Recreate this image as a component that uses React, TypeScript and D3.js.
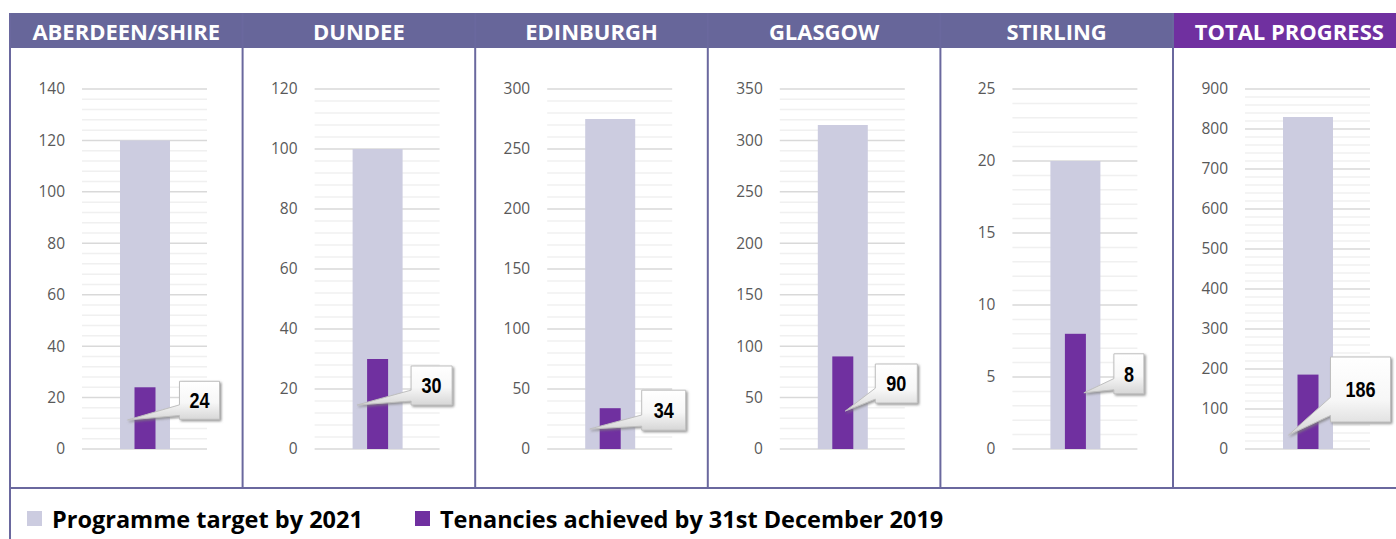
import React, { useEffect, useRef } from 'react';
import * as d3 from 'd3';

const regions = ['ABERDEEN/SHIRE', 'DUNDEE', 'EDINBURGH', 'GLASGOW', 'STIRLING', 'TOTAL PROGRESS'];
const targets = [120, 100, 275, 315, 20, 830];
const achieved = [24, 30, 34, 90, 8, 186];
const axisMax = [140, 120, 300, 350, 25, 900];
const majorStep = [20, 20, 50, 50, 5, 100];
const minorStep = [4, 4, 10, 10, 1, 20];
const legendLabels = ['Programme target by 2021', 'Tenancies achieved by 31st December 2019'];

// callout placement relative to the top centre of the purple bar (px)
const callouts = [
    { dx: 34.5, dy: -6, w: 40, h: 38, tipDx: -17.5, tipDy: 32.7 },
    { dx: 33.5, dy: 7, w: 41, h: 39, tipDx: -20.5, tipDy: 46 },
    { dx: 31.5, dy: -18, w: 44, h: 40, tipDx: -20.5, tipDy: 20.8 },
    { dx: 32.5, dy: 7.6, w: 42, h: 39, tipDx: 2.5, tipDy: 54.6 },
    { dx: 38.5, dy: 20, w: 30, h: 40, tipDx: 8.5, tipDy: 59 },
    { dx: 22.5, dy: -17.6, w: 60, h: 65, tipDx: -19.5, tipDy: 60.4 }
];

const FRAME = '#6A689E';
const HEADER = '#67669A';
const TOTAL_HEADER = '#7030A0';
const TARGET_COLOR = '#CCCCE0';
const ACHIEVED_COLOR = '#7030A0';

const ProgressPanels = () => {
    const svgRef = useRef<SVGSVGElement>(null);

    useEffect(() => {
        if (!svgRef.current) return;
        const width = 1396;
        const height = 539;
        const panelW = 232.6;
        const top = 89, bottom = 449;

        const svg = d3.select(svgRef.current)
            .attr('width', width)
            .attr('height', height);
        svg.selectAll('*').remove();

        const defs = svg.append('defs');
        const grad = defs.append('linearGradient')
            .attr('id', 'callout-fill')
            .attr('x1', 0).attr('y1', 0).attr('x2', 0).attr('y2', 1);
        grad.append('stop').attr('offset', '0%').attr('stop-color', '#ffffff');
        grad.append('stop').attr('offset', '55%').attr('stop-color', '#f7f7f7');
        grad.append('stop').attr('offset', '100%').attr('stop-color', '#d6d6d6');
        const shadow = defs.append('filter').attr('id', 'callout-shadow')
            .attr('x', '-30%').attr('y', '-30%').attr('width', '160%').attr('height', '160%');
        shadow.append('feDropShadow')
            .attr('dx', 1.5).attr('dy', 1.5).attr('stdDeviation', 0.8)
            .attr('flood-color', '#7f7f7f').attr('flood-opacity', 0.8);

        const panel = d3.scaleBand()
            .domain(regions)
            .range([10, 10 + panelW * regions.length])
            .padding(0);

        // header band
        svg.append('rect')
            .attr('x', 10).attr('y', 13)
            .attr('width', width - 10).attr('height', 35)
            .attr('fill', HEADER);
        svg.append('rect')
            .attr('x', (panel(regions[5]) as number) + 1).attr('y', 13)
            .attr('width', width - (panel(regions[5]) as number)).attr('height', 35)
            .attr('fill', TOTAL_HEADER);

        regions.forEach((name, i) => {
            const px = panel(name) as number;
            const y = d3.scaleLinear().domain([0, axisMax[i]]).range([bottom, top]);
            const g = svg.append('g');

            g.append('text')
                .attr('x', px + panelW / 2)
                .attr('y', 39.5)
                .attr('text-anchor', 'middle')
                .attr('fill', '#ffffff')
                .attr('font-family', 'Open Sans, sans-serif')
                .attr('font-weight', 700)
                .attr('font-size', '22px')
                .text(name);

            // minor + major gridlines
            const minors = d3.range(0, axisMax[i] + minorStep[i] / 2, minorStep[i]);
            g.selectAll('.minor')
                .data(minors.filter(v => Math.abs(v / majorStep[i] - Math.round(v / majorStep[i])) > 1e-6))
                .enter()
                .append('line')
                .attr('x1', px + 72).attr('x2', px + 197)
                .attr('y1', d => y(d)).attr('y2', d => y(d))
                .attr('stroke', '#F0F0F0')
                .attr('stroke-width', 1.5);

            const majors = d3.range(0, axisMax[i] + majorStep[i] / 2, majorStep[i]);
            g.selectAll('.major')
                .data(majors)
                .enter()
                .append('line')
                .attr('x1', px + 72).attr('x2', px + 197)
                .attr('y1', d => y(d)).attr('y2', d => y(d))
                .attr('stroke', '#D9D9D9')
                .attr('stroke-width', 1.5);

            g.selectAll('.tick-label')
                .data(majors)
                .enter()
                .append('text')
                .attr('x', px + 55)
                .attr('y', d => y(d))
                .attr('dy', '0.35em')
                .attr('text-anchor', 'end')
                .attr('fill', '#595959')
                .attr('font-family', 'Open Sans, sans-serif')
                .attr('font-size', '15.5px')
                .text(d => d);

            // bars
            g.append('rect')
                .attr('x', px + 110)
                .attr('y', y(targets[i]))
                .attr('width', 50)
                .attr('height', bottom - y(targets[i]))
                .attr('fill', TARGET_COLOR);

            const cx = px + 135;
            const yTop = y(achieved[i]);
            g.append('rect')
                .attr('x', cx - 10.5)
                .attr('y', yTop)
                .attr('width', 21)
                .attr('height', bottom - yTop)
                .attr('fill', ACHIEVED_COLOR);

            // callout label
            const c = callouts[i];
            const bx = cx + c.dx, by = yTop + c.dy;
            const tx = cx + c.tipDx, ty = yTop + c.tipDy;
            const path = d3.path();
            path.moveTo(bx, by);
            path.lineTo(bx + c.w, by);
            path.lineTo(bx + c.w, by + c.h);
            path.lineTo(bx, by + c.h);
            path.lineTo(bx, by + c.h * 0.9);
            path.lineTo(tx, ty);
            path.lineTo(bx, by + c.h * 0.62);
            path.closePath();
            g.append('path')
                .attr('d', path.toString())
                .attr('fill', 'url(#callout-fill)')
                .attr('stroke', '#BFBFBF')
                .attr('stroke-width', 1)
                .attr('filter', 'url(#callout-shadow)');

            g.append('text')
                .attr('transform', `translate(${bx + c.w / 2}, ${by + c.h / 2}) scale(0.82, 1)`)
                .attr('dy', '0.36em')
                .attr('text-anchor', 'middle')
                .attr('fill', '#000000')
                .attr('font-family', 'Liberation Sans Narrow, Arial Narrow, Liberation Sans, sans-serif')
                .attr('font-weight', 700)
                .attr('font-size', '22px')
                .text(achieved[i]);
        });

        // frame
        regions.slice(1).forEach(name => {
            const px = panel(name) as number;
            svg.append('line')
                .attr('x1', px).attr('x2', px)
                .attr('y1', 13).attr('y2', 488)
                .attr('stroke', FRAME).attr('stroke-width', 2);
        });
        svg.append('line')
            .attr('x1', 10).attr('x2', 10)
            .attr('y1', 13).attr('y2', height)
            .attr('stroke', FRAME).attr('stroke-width', 2);
        svg.append('line')
            .attr('x1', 9).attr('x2', width)
            .attr('y1', 488).attr('y2', 488)
            .attr('stroke', FRAME).attr('stroke-width', 2);

        // legend
        const legendX = [27, 415];
        const legendColors = [TARGET_COLOR, ACHIEVED_COLOR];
        const legend = svg.selectAll('.legend-item')
            .data(legendLabels)
            .enter()
            .append('g')
            .attr('transform', (_, i) => `translate(${legendX[i]}, 511)`);
        legend.append('rect')
            .attr('width', 15).attr('height', 15)
            .attr('fill', (_, i) => legendColors[i]);
        legend.append('text')
            .attr('x', 25)
            .attr('y', 16.5)
            .attr('fill', '#000000')
            .attr('font-family', 'Open Sans, sans-serif')
            .attr('font-weight', 700)
            .attr('font-size', '23.5px')
            .text(d => d);
    }, []);

    return (
        <div style={{ position: 'absolute', left: 0, top: 0, background: '#ffffff' }}>
            <svg ref={svgRef} style={{ display: 'block' }}></svg>
        </div>
    );
};

export default ProgressPanels;
